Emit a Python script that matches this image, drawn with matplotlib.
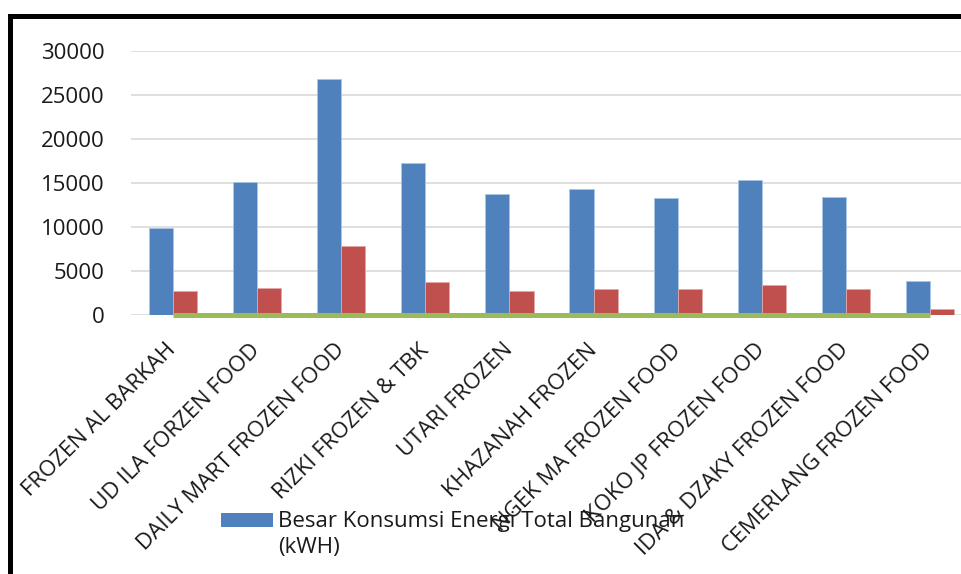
import matplotlib
matplotlib.use("Agg")
import matplotlib.pyplot as plt
import matplotlib.patches as mpatches
import numpy as np

# data
toko = ["FROZEN AL BARKAH", "UD ILA FORZEN FOOD", "DAILY MART FROZEN FOOD",
        "RIZKI FROZEN & TBK", "UTARI FROZEN", "KHAZANAH FROZEN",
        "NGEK MA FROZEN FOOD", "KOKO JP FROZEN FOOD", "IDA & DZAKY FROZEN FOOD",
        "CEMERLANG FROZEN FOOD"]
konsumsi_total = [9900, 15100, 26800, 17270, 13790, 14320, 13300, 15380, 13410, 3830]
konsumsi_kedua = [2760, 3030, 7840, 3750, 2730, 2920, 2920, 3370, 2920, 720]
seri_ketiga = [0, 0, 0, 0, 0, 0, 0, 0, 0, 0]
yticks = [0, 5000, 10000, 15000, 20000, 25000, 30000]
legend_label = "Besar Konsumsi Energi Total Bangunan\n(kWH)"

blue = "#4F81BD"
red = "#C0504D"
green = "#9BBB59"

plt.rcParams["font.family"] = ["Open Sans", "DejaVu Sans"]

W, H = 961, 574
fig = plt.figure(figsize=(W / 100, H / 100), dpi=100)

# plot area runs past the right edge of the picture (cropped, like the reference)
left_px, right_px, top_px, bottom_px = 131, 972, 51, 315
ax = fig.add_axes([left_px / W, (H - bottom_px) / H,
                   (right_px - left_px) / W, (bottom_px - top_px) / H])

x = np.arange(len(toko))
bw = 0.287
ax.bar(x - bw / 2, konsumsi_total, bw, color=blue, edgecolor="#a9c4e6", linewidth=0.6,
       label=legend_label, zorder=3)
ax.bar(x + bw / 2, konsumsi_kedua, bw, color=red, edgecolor="#e3a9a8", linewidth=0.6,
       zorder=3)
ax.plot(x, seri_ketiga, color=green, linewidth=3.6, solid_capstyle="butt",
        clip_on=False, zorder=4)

ax.set_xlim(-0.5, len(toko) - 0.5)
ax.set_ylim(0, 30000)
ax.set_yticks(yticks)
ax.set_yticklabels([str(v) for v in yticks], fontsize=16, color="#1a1a1a")
ax.yaxis.grid(True, color="#d9d9d9", linewidth=1.2, zorder=0)
ax.set_axisbelow(True)
for s in ax.spines.values():
    s.set_visible(False)
ax.tick_params(axis="y", length=0, pad=19)
ax.tick_params(axis="x", length=0, pad=23)

ax.set_xticks(x)
ax.set_xticklabels(toko, fontsize=16, rotation=45, ha="right", va="center",
                   rotation_mode="anchor", color="#1a1a1a")

# legend entry (only the first entry is visible in the cropped reference)
fig.patches.append(mpatches.Rectangle((221 / W, (H - 527) / H), 52 / W, 14.5 / H,
                                      transform=fig.transFigure,
                                      facecolor=blue, edgecolor="none"))
for i, line in enumerate(legend_label.split("\n")):
    fig.text(278 / W, (H - 527 - 26 * i) / H, line, fontsize=16, va="baseline",
             ha="left", color="#1a1a1a")

# black frame around the chart, cut at right and bottom
fig.patches.append(mpatches.Rectangle((10 / W, -0.1), 1.2, (H - 15.8) / H + 0.1,
                                      transform=fig.transFigure, fill=False,
                                      edgecolor="black", linewidth=3.6))

fig.savefig("out.png", dpi=100)
